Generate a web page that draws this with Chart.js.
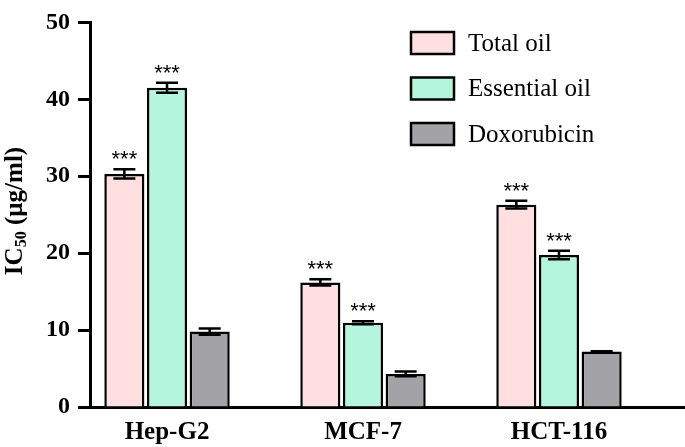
<!DOCTYPE html>
<html>
<head>
<meta charset="utf-8">
<script src="https://cdn.jsdelivr.net/npm/chart.js@4.4.0/dist/chart.umd.min.js"></script>
<style>
  html, body { margin: 0; padding: 0; background: #fff; }
  #wrap { width: 685px; height: 447px; }
</style>
</head>
<body>
<div id="wrap"><canvas id="ic50-chart"></canvas></div>
<script>
const cellLines = ['Hep-G2', 'MCF-7', 'HCT-116'];
const seriesNames = ['Total oil', 'Essential oil', 'Doxorubicin'];
const totalOil = [30.3, 16.2, 26.3];
const essentialOil = [41.5, 10.95, 19.75];
const doxorubicin = [9.8, 4.3, 7.2];
const totalOilErr = [0.6, 0.4, 0.5];
const essentialOilErr = [0.65, 0.2, 0.55];
const doxorubicinErr = [0.4, 0.3, 0.05];
const stars = [['***', '***', '***'], ['***', '***', '***'], ['', '', '']];
const yTicks = [0, 10, 20, 30, 40, 50];

const fills = ['#ffdfdf', '#b4f5de', '#a3a2a7'];
const serif = '"Liberation Serif", "Times New Roman", serif';

function toPoints(values) {
    return values.map((v, i) => ({ x: i, y: v }));
}

const errors = [totalOilErr, essentialOilErr, doxorubicinErr];

// error bars + significance stars
const errorBarPlugin = {
    id: 'errorBars',
    afterDatasetsDraw(chart) {
        const ctx = chart.ctx;
        const yScale = chart.scales.y;
        ctx.save();
        ctx.strokeStyle = '#000';
        ctx.lineWidth = 2.5;
        chart.data.datasets.forEach((ds, di) => {
            const meta = chart.getDatasetMeta(di);
            meta.data.forEach((bar, i) => {
                const v = ds.data[i].y;
                const e = errors[di][i];
                const top = yScale.getPixelForValue(v + e);
                const bot = yScale.getPixelForValue(v - e);
                const half = 11;
                ctx.beginPath();
                ctx.moveTo(bar.x, top);
                ctx.lineTo(bar.x, bot);
                ctx.moveTo(bar.x - half, top);
                ctx.lineTo(bar.x + half, top);
                ctx.moveTo(bar.x - half, bot);
                ctx.lineTo(bar.x + half, bot);
                ctx.stroke();
                if (stars[di][i]) {
                    ctx.fillStyle = '#000';
                    ctx.font = '22px "Liberation Sans", Arial, sans-serif';
                    ctx.textAlign = 'center';
                    ctx.textBaseline = 'alphabetic';
                    ctx.fillText(stars[di][i], bar.x, top - 3);
                }
            });
        });
        ctx.restore();
    }
};

// legend boxes on the right and the rotated y title
const decorPlugin = {
    id: 'decor',
    afterDraw(chart) {
        const ctx = chart.ctx;
        ctx.save();
        chart.data.datasets.forEach((ds, i) => {
            const cy = 43 + i * 45.5;
            ctx.fillStyle = ds.backgroundColor;
            ctx.fillRect(411, cy - 11, 43, 22);
            ctx.strokeStyle = '#000';
            ctx.lineWidth = 2.5;
            ctx.strokeRect(411, cy - 11, 43, 22);
            ctx.fillStyle = '#000';
            ctx.font = '25px ' + serif;
            ctx.textAlign = 'left';
            ctx.textBaseline = 'middle';
            ctx.fillText(ds.label, 468, cy + 1);
        });

        // IC50 (µg/ml) with subscript
        const big = 'bold 25px ' + serif;
        const small = 'bold 16px ' + serif;
        ctx.font = big;
        const w1 = ctx.measureText('IC').width;
        const w3 = ctx.measureText(' (µg/ml)').width;
        ctx.font = small;
        const w2 = ctx.measureText('50').width;
        const total = w1 + w2 + w3;
        ctx.translate(22, 211);
        ctx.rotate(-Math.PI / 2);
        ctx.textAlign = 'left';
        ctx.textBaseline = 'alphabetic';
        let x = -total / 2;
        ctx.font = big;
        ctx.fillText('IC', x, 0);
        x += w1;
        ctx.font = small;
        ctx.fillText('50', x, 4);
        x += w2;
        ctx.font = big;
        ctx.fillText(' (µg/ml)', x, 0);
        ctx.restore();
    }
};

const ctx = document.getElementById('ic50-chart').getContext('2d');

const chart = new Chart(ctx, {
    type: 'bar',
    data: {
        datasets: [
            { label: seriesNames[0], data: toPoints(totalOil), backgroundColor: fills[0] },
            { label: seriesNames[1], data: toPoints(essentialOil), backgroundColor: fills[1] },
            { label: seriesNames[2], data: toPoints(doxorubicin), backgroundColor: fills[2] }
        ]
    },
    options: {
        responsive: true,
        maintainAspectRatio: false,
        animation: false,
        layout: { padding: { top: 15, right: 0, bottom: 0, left: 0 } },
        datasets: {
            bar: {
                borderColor: '#000',
                borderWidth: 2.5,
                categoryPercentage: 0.653,
                barPercentage: 0.94
            }
        },
        scales: {
            x: {
                type: 'linear',
                offset: false,
                min: -0.393,
                max: 2.643,
                afterBuildTicks: (s) => { s.ticks = cellLines.map((_, i) => ({ value: i })); },
                afterFit: (s) => { s.height = 40; },
                grid: { display: false, offset: false },
                border: { display: true, color: '#000', width: 3 },
                ticks: {
                    padding: 3,
                    color: '#000',
                    font: { family: serif, size: 25, weight: 'bold' },
                    callback: (v) => cellLines[v]
                }
            },
            y: {
                min: 0,
                max: 50,
                afterBuildTicks: (s) => { s.ticks = yTicks.map(v => ({ value: v })); },
                afterFit: (s) => { s.width = 90; },
                grid: {
                    drawOnChartArea: false,
                    drawTicks: true,
                    tickLength: 12,
                    tickWidth: 3,
                    tickColor: '#000'
                },
                border: { display: true, color: '#000', width: 3 },
                ticks: {
                    padding: 8,
                    color: '#000',
                    font: { family: serif, size: 24, weight: 'bold' }
                }
            }
        },
        plugins: {
            legend: { display: false },
            tooltip: { enabled: false }
        }
    },
    plugins: [errorBarPlugin, decorPlugin]
});
</script>
</body>
</html>
